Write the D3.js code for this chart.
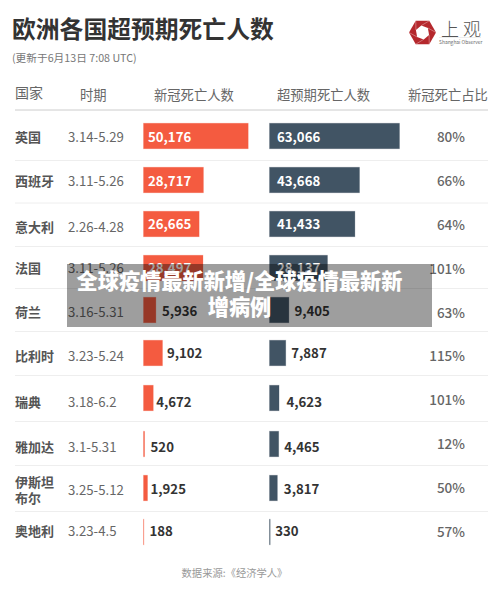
<!DOCTYPE html>
<html>
<head>
<meta charset="utf-8">
<script src="https://cdn.jsdelivr.net/npm/d3@7"></script>
<style>
  html, body { margin: 0; padding: 0; background: #fff; }
  svg { display: block; }
  text { font-family: "Noto Sans CJK SC", "Noto Sans", sans-serif; }
</style>
</head>
<body>
<div id="chart-area"></div>
<script>
// data
const countries = ["英国", "西班牙", "意大利", "法国", "荷兰", "比利时", "瑞典", "雅加达", "伊斯坦布尔", "奥地利"]
const periods = ["3.14-5.29", "3.11-5.26", "2.26-4.28", "3.11-5.26", "3.16-5.31", "3.23-5.24", "3.18-6.2", "3.1-5.31", "3.25-5.12", "3.23-4.5"]
const covidDeaths = [50176, 28717, 26665, 28497, 5936, 9102, 4672, 520, 1925, 188]
const excessDeaths = [63066, 43668, 41433, 28137, 9405, 7887, 4623, 4465, 3817, 330]
const shares = ["80%", "66%", "64%", "101%", "63%", "115%", "101%", "12%", "50%", "57%"]
const headers = ["国家", "时期", "新冠死亡人数", "超预期死亡人数", "新冠死亡占比"]

const width = 500
const height = 591

const svg = d3.select("#chart-area").append("svg")
    .attr("width", width)
    .attr("height", height)

// rows are not evenly spaced in the original, and the columns drift apart a bit
const rowIdx = d3.range(10)
const y = d3.scaleLinear().domain(rowIdx)
    .range([136, 180, 224, 268, 310, 353, 398, 444, 488, 532])
const yName = d3.scaleLinear().domain(rowIdx)
    .range([136.5, 181, 226.5, 268, 312, 356, 402, 447, 489.5, 531])
const yValue = d3.scaleLinear().domain(rowIdx)
    .range([137, 181, 223.5, 268, 311, 353, 402, 447, 488.5, 531])
const yShare = d3.scaleLinear().domain([0, 9]).range([137, 532])
const ySep = d3.scaleLinear().domain(d3.range(9))
    .range([160.5, 203, 246.5, 288.5, 331.5, 375.5, 421.5, 465.5, 511.5])
const barH = 25.5

const xRed = d3.scaleLinear().domain([0, 50176]).range([0, 104.7])
const xDark = d3.scaleLinear().domain([0, 63066]).range([0, 130])
const redX = 143.5
const darkX = 269.5
const insideMin = 20000

// title block
svg.append("text").attr("x", 12).attr("y", 38)
    .attr("font-size", 23.8).attr("font-weight", 700).attr("fill", "#333")
    .text("欧洲各国超预期死亡人数")
svg.append("text").attr("x", 12).attr("y", 62)
    .attr("font-size", 10.7).attr("fill", "#777")
    .text("(更新于6月13日 7:08 UTC)")

// logo
const logo = svg.append("g").attr("transform", "translate(422.5,32.5)")
const outer = d3.range(6).map(i => [
    13.5 * Math.cos(i * Math.PI / 3),
    13.5 * Math.sin(i * Math.PI / 3)
])
const inner = d3.range(6).map(i => [
    7 * Math.cos(i * Math.PI / 3 + 0.35),
    7 * Math.sin(i * Math.PI / 3 + 0.35)
])
logo.append("path").attr("d", d3.line()(outer) + "Z").attr("fill", "#b5282d")
logo.append("path").attr("d", d3.line()(inner) + "Z").attr("fill", "#fff")
logo.selectAll("line")
    .data(d3.range(6))
    .enter().append("line")
    .attr("x1", i => inner[i][0]).attr("y1", i => inner[i][1])
    .attr("x2", i => outer[(i + 1) % 6][0]).attr("y2", i => outer[(i + 1) % 6][1])
    .attr("stroke", "#e9b9ba").attr("stroke-width", 0.5)
svg.append("text").attr("x", 441).attr("y", 36)
    .attr("font-size", 18).attr("font-weight", 300).attr("fill", "#555").attr("letter-spacing", 4)
    .text("上观")
svg.append("line")
    .attr("x1", 439).attr("x2", 481)
    .attr("y1", 37.5).attr("y2", 37.5)
    .attr("stroke", "#ddd").attr("stroke-width", 0.5)
svg.append("text").attr("x", 439).attr("y", 43.5)
    .attr("font-size", 4.9).attr("fill", "#666")
    .text("Shanghai Observer")

// header row
const headerX = [15, 80, 154, 277, 408]
svg.selectAll("text.header")
    .data(headers)
    .enter().append("text")
    .attr("class", "header")
    .attr("x", (d, i) => headerX[i])
    .attr("y", (d, i) => i === 0 ? 98 : 100)
    .attr("font-size", (d, i) => i === 0 ? 14 : 13.3)
    .attr("fill", "#666")
    .text(d => d)

svg.append("line")
    .attr("x1", 15).attr("x2", 488)
    .attr("y1", 110).attr("y2", 110)
    .attr("stroke", "#ccc").attr("stroke-width", 1)

// separators between rows
svg.selectAll("line.sep")
    .data(d3.range(9))
    .enter().append("line")
    .attr("class", "sep")
    .attr("x1", 15).attr("x2", 488)
    .attr("y1", i => ySep(i))
    .attr("y2", i => ySep(i))
    .attr("stroke", "#eee").attr("stroke-width", 1)

// country names, Istanbul wraps on two lines
const nameText = svg.selectAll("text.country")
    .data(countries)
    .enter().append("text")
    .attr("class", "country")
    .attr("x", 15)
    .attr("font-size", 13)
    .attr("font-weight", 700)
    .attr("fill", "#555")

nameText.each(function(d, i) {
    const lines = d.length > 3 ? [d.slice(0, 3), d.slice(3)] : [d]
    d3.select(this).selectAll("tspan")
        .data(lines)
        .enter().append("tspan")
        .attr("x", 15)
        .attr("y", (l, j) => yName(i) + 5 + (j - (lines.length - 1) / 2) * 16)
        .text(l => l)
})

svg.selectAll("text.period")
    .data(periods)
    .enter().append("text")
    .attr("class", "period")
    .attr("x", 68)
    .attr("y", (d, i) => yName(i) + 5)
    .attr("font-size", 13.2)
    .attr("fill", "#666")
    .text(d => d)

// one bar column with its labels
function barColumn(values, x0, xScale, color, name, insetX, gaps) {
    svg.selectAll("rect." + name)
        .data(values)
        .enter().append("rect")
        .attr("class", name)
        .attr("x", x0)
        .attr("y", (d, i) => y(i) - barH / 2)
        .attr("width", d => xScale(d))
        .attr("height", barH)
        .attr("fill", color)
        .attr("stroke", color)
        .attr("stroke-opacity", 0.3)
        .attr("stroke-width", 0.8)

    svg.selectAll("text." + name)
        .data(values)
        .enter().append("text")
        .attr("class", name)
        .attr("x", (d, i) => d > insideMin ? x0 + insetX : x0 + xScale(d) + gaps[i])
        .attr("y", (d, i) => yValue(i) + 5)
        .attr("font-size", 13.2)
        .attr("font-weight", 700)
        .attr("fill", d => d > insideMin ? "#fff" : "#333")
        .text(d => d3.format(",")(d))
}

barColumn(covidDeaths, redX, xRed, "#f45b40", "covid", 4.5, [0, 0, 0, 0, 6, 4.5, 3, 6, 3, 5.5])
barColumn(excessDeaths, darkX, xDark, "#415464", "excess", 7.5, [0, 0, 0, 0, 5.5, 5.5, 7.5, 5.5, 6.5, 5])

svg.selectAll("text.share")
    .data(shares)
    .enter().append("text")
    .attr("class", "share")
    .attr("x", 465)
    .attr("y", (d, i) => yShare(i) + 5)
    .attr("text-anchor", "end")
    .attr("font-size", 13.5)
    .attr("font-weight", 500)
    .attr("fill", "#666")
    .text(d => d)

svg.append("text")
    .attr("x", 234.5).attr("y", 577)
    .attr("text-anchor", "middle")
    .attr("font-size", 10.3).attr("fill", "#999")
    .text("数据来源:《经济学人》")

// grey caption band over the chart
svg.append("rect")
    .attr("x", 67).attr("y", 264)
    .attr("width", 365).attr("height", 63)
    .attr("fill", "#000").attr("opacity", 0.38)

const captionLines = ["全球疫情最新新增/全球疫情最新新", "增病例"]
svg.selectAll("text.caption")
    .data(captionLines)
    .enter().append("text")
    .attr("class", "caption")
    .attr("x", 239.5)
    .attr("y", (d, i) => 289 + i * 25.5)
    .attr("text-anchor", "middle")
    .attr("font-size", 21.2)
    .attr("font-weight", 900)
    .attr("fill", "#fff")
    .text(d => d)
</script>
</body>
</html>
